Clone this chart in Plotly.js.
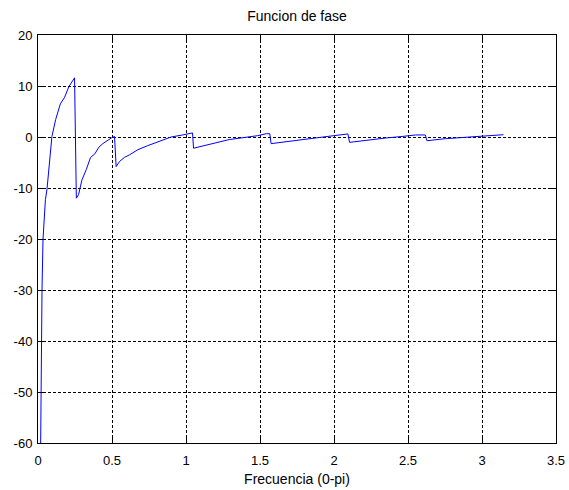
<!DOCTYPE html>
<html>
<head>
<meta charset="utf-8">
<script src="https://cdn.plot.ly/plotly-3.0.1.min.js"></script>
<style>html,body{margin:0;padding:0;background:#fff;}#chart{width:569px;height:490px;}</style>
</head>
<body>
<div id="chart"></div>
<script>
var titleText = "Funcion de fase";
var xLabel = "Frecuencia (0-pi)";
var xTicks = [0, 0.5, 1, 1.5, 2, 2.5, 3, 3.5];
var yTicks = [-60, -50, -40, -30, -20, -10, 0, 10, 20];

var freq = [0.018, 0.020, 0.023, 0.027, 0.034, 0.040, 0.050, 0.061, 0.086, 0.094, 0.119, 0.151, 0.180, 0.209, 0.247,
            0.259, 0.274, 0.297, 0.326, 0.355, 0.384, 0.411, 0.438, 0.468, 0.495, 0.517,
            0.528, 0.551, 0.584, 0.618, 0.674, 0.741, 0.820, 0.899, 0.977, 1.044,
            1.051, 1.157, 1.292, 1.482, 1.543, 1.566,
            1.575, 1.995, 2.094,
            2.105, 2.235, 2.348, 2.460, 2.550, 2.617,
            2.628, 2.752, 2.976, 3.100, 3.145];
var fase = [-60, -50, -40, -30, -20, -16.2, -12.3, -10.2, -1.8, 0.1, 3.4, 6.5, 7.8, 9.9, 11.6,
            -12.0, -11.3, -8.4, -6.4, -4.0, -3.3, -2.0, -1.3, -0.7, -0.2, 0.1,
            -5.8, -4.8, -4.0, -3.5, -2.5, -1.7, -0.9, 0.0, 0.4, 0.8,
            -2.2, -1.5, -0.5, 0.25, 0.65, 0.65,
            -1.3, 0.25, 0.6,
            -1.05, -0.53, -0.2, 0.1, 0.4, 0.4,
            -0.73, -0.33, 0.1, 0.3, 0.45];

var fontFam = 'Liberation Sans, Arial, sans-serif';
var axisCommon = {
  showline: true, linecolor: '#000', linewidth: 1, mirror: 'ticks',
  ticks: 'inside', ticklen: 5, tickcolor: '#000', tickwidth: 1,
  showgrid: true, gridcolor: '#000', gridwidth: 1, griddash: '3px,2px',
  zeroline: false,
  tickfont: {family: fontFam, size: 13, color: '#000'}
};

var layout = {
  width: 569, height: 490,
  margin: {l: 38, r: 13, t: 35, b: 47},
  paper_bgcolor: '#fff', plot_bgcolor: '#fff',
  showlegend: false,
  title: {text: titleText, font: {family: fontFam, size: 14, color: '#000'},
          x: 0.5, xref: 'paper', xanchor: 'center', y: 1 - 16/490, yref: 'container', yanchor: 'middle'},
  xaxis: Object.assign({}, axisCommon, {
    range: [0, 3.5], tickvals: xTicks, ticktext: xTicks.map(String),
    ticklabelstandoff: 5,
    title: {text: xLabel, font: {family: fontFam, size: 14, color: '#000'}, standoff: 7}
  }),
  yaxis: Object.assign({}, axisCommon, {
    range: [-60, 20], tickvals: yTicks, ticktext: yTicks.map(String),
    ticklabelstandoff: 2
  })
};

var trace = {x: freq, y: fase, type: 'scatter', mode: 'lines', line: {color: '#0000ff', width: 1}};

Plotly.newPlot('chart', [trace], layout, {staticPlot: true, displayModeBar: false});
</script>
</body>
</html>
